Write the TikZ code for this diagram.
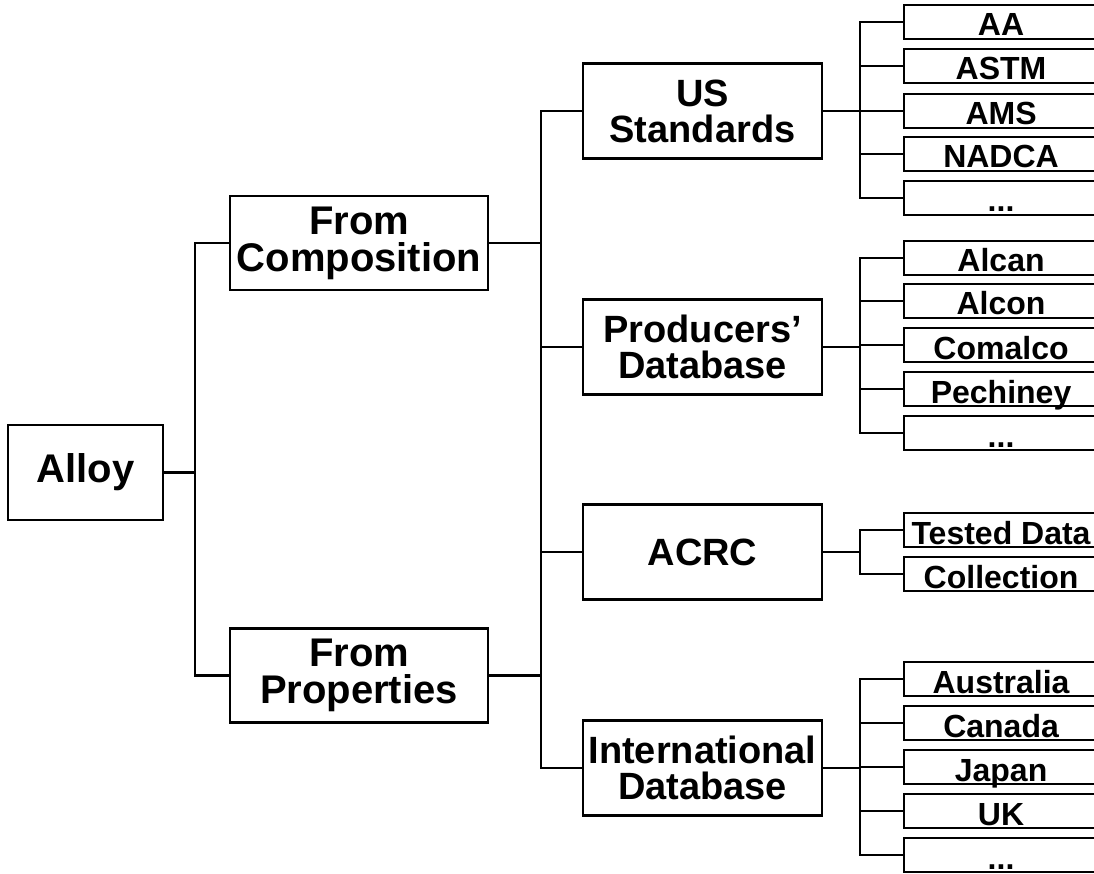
\documentclass[tikz,border=0pt]{standalone}
\usepackage{fontspec}
\setmainfont{Liberation Sans}
\begin{document}
\begin{tikzpicture}[x=1pt,y=-1pt,
  conn/.style={line width=2.1pt, line join=miter},
  boxbase/.style={draw, line width=2.1pt, inner sep=0pt, align=center},
  rootbox/.style={boxbase, minimum width=155pt, minimum height=95pt,
    font=\fontsize{40}{36}\selectfont\bfseries},
  firstbox/.style={boxbase, minimum width=258pt, minimum height=94pt,
    font=\fontsize{40}{37}\selectfont\bfseries},
  secondbox/.style={boxbase, minimum width=239pt, minimum height=95pt,
    font=\fontsize{38}{36}\selectfont\bfseries},
  leafbox/.style={boxbase, anchor=west, minimum width=194pt, minimum height=34pt,
    text height=31pt, text depth=3pt, font=\fontsize{32}{32}\selectfont\bfseries}]
\useasboundingbox (0,0) rectangle (1094,874);
\fill[white] (0,0) rectangle (1094,874);
\clip (0,0) rectangle (1094,874);

% bus positions of the three levels
\coordinate (b1) at (195,0);
\coordinate (b2) at (541,0);
\coordinate (b3) at (860,0);

% root and first level
\node[rootbox] (alloy) at (85.5,472.5) {Alloy};
\node[firstbox] (comp) at (359,243) {From\\Composition};
\node[firstbox] (prop) at (359,675.5) {From\\Properties};

% second level
\node[secondbox] (us)   at (702.5,111) {US\\Standards};
\node[secondbox] (prod) at (702.5,347) {Producers’\\Database};
\node[secondbox] (acrc) at (702.5,552) {ACRC};
\node[secondbox] (intl) at (702.5,768) {International\\Database};

% leaves
\node[leafbox] (aa)    at (903,22)  {AA};
\node[leafbox] (astm)  at (903,66)  {ASTM};
\node[leafbox] (ams)   at (903,111) {AMS};
\node[leafbox] (nadca) at (903,154) {NADCA};
\node[leafbox] (usx)   at (903,198) {...};

\node[leafbox] (alcan) at (903,258) {Alcan};
\node[leafbox] (alcon) at (903,301) {Alcon};
\node[leafbox] (comal) at (903,345) {Comalco};
\node[leafbox] (pech)  at (903,389) {Pechiney};
\node[leafbox] (prodx) at (903,433) {...};

\node[leafbox] (test)  at (903,530) {Tested Data};
\node[leafbox] (coll)  at (903,574) {Collection};

\node[leafbox] (aus)   at (903,679) {Australia};
\node[leafbox] (can)   at (903,723) {Canada};
\node[leafbox] (jap)   at (903,767) {Japan};
\node[leafbox] (uk)    at (903,811) {UK};
\node[leafbox] (intx)  at (903,855) {...};

% root to first level
\draw[conn] (alloy.east) -- (b1 |- alloy.east);
\draw[conn] (comp.west) -| (b1 |- alloy.east) |- (prop.west);

% first level to second level
\draw[conn] (us.west) -| (b2 |- intl.west) -- (intl.west);
\draw[conn] (comp.east) -- (b2 |- comp.east);
\draw[conn] (prop.east) -- (b2 |- prop.east);
\draw[conn] (prod.west) -- (b2 |- prod.west);
\draw[conn] (acrc.west) -- (b2 |- acrc.west);

% second level to leaves
\draw[conn] (aa.west) -| (b3 |- usx.west) -- (usx.west);
\draw[conn] (us.east) -- (ams.west);
\foreach \n in {astm,nadca} \draw[conn] (\n.west) -- (b3 |- \n.west);

\draw[conn] (alcan.west) -| (b3 |- prodx.west) -- (prodx.west);
\draw[conn] (prod.east) -- (b3 |- prod.east);
\foreach \n in {alcon,comal,pech} \draw[conn] (\n.west) -- (b3 |- \n.west);

\draw[conn] (test.west) -| (b3 |- coll.west) -- (coll.west);
\draw[conn] (acrc.east) -- (b3 |- acrc.east);

\draw[conn] (aus.west) -| (b3 |- intx.west) -- (intx.west);
\draw[conn] (intl.east) -- (b3 |- intl.east);
\foreach \n in {can,jap,uk} \draw[conn] (\n.west) -- (b3 |- \n.west);
\end{tikzpicture}
\end{document}
